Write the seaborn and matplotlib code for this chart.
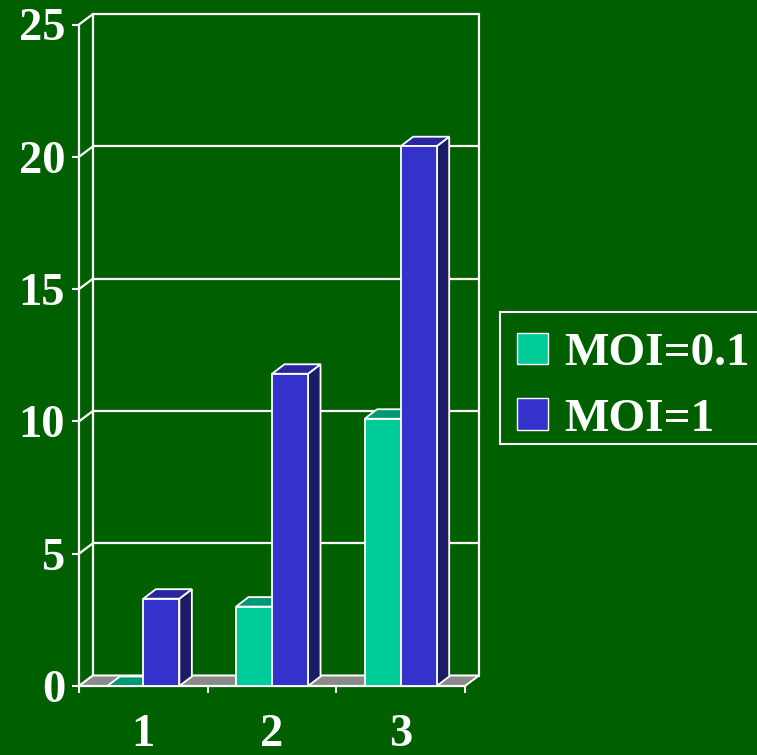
import pandas as pd
import seaborn as sns
import matplotlib.pyplot as plt
from matplotlib.patches import Polygon, Patch, Rectangle

# Chart data
categories = ["1", "2", "3"]
series_names = ["MOI=0.1", "MOI=1"]
moi_low = [0.0, 3.0, 10.1]
moi_high = [3.3, 11.8, 20.4]
y_ticks = [0, 5, 10, 15, 20, 25]

# Colours
BG = "#006000"
FACE = {"MOI=0.1": "#00CC99", "MOI=1": "#3333CC"}
TOP = {"MOI=0.1": "#009977", "MOI=1": "#28289E"}
SIDE = {"MOI=0.1": "#007755", "MOI=1": "#1C1C66"}
FLOOR = "#8A8A8A"

sns.set_style("white")
plt.rcParams["font.family"] = ["Liberation Serif", "DejaVu Serif"]
plt.rcParams["font.weight"] = "bold"

df = pd.DataFrame({
    "group": categories * 2,
    "series": [series_names[0]] * len(categories) + [series_names[1]] * len(categories),
    "value": moi_low + moi_high,
})

W, H = 757, 755
fig = plt.figure(figsize=(W / 100, H / 100), dpi=100, facecolor=BG)
ax = fig.add_axes([79 / W, 1 - 686 / H, 386 / W, 661.5 / H])
ax.set_facecolor("none")

sns.barplot(data=df, x="group", y="value", hue="series", hue_order=series_names,
            palette=FACE, width=0.56, dodge=True, ax=ax, legend=False,
            edgecolor="white", linewidth=1.3, saturation=1, errorbar=None)

ax.set_xlim(-0.5, len(categories) - 0.5)
ax.set_ylim(y_ticks[0], y_ticks[-1])
ax.set_xlabel("")
ax.set_ylabel("")

# pixel -> data conversion for the pseudo-3D depth
pos = ax.get_position()
x0, x1 = ax.get_xlim()
y0, y1 = ax.get_ylim()
ux = (x1 - x0) / (pos.width * W)
uy = (y1 - y0) / (pos.height * H)
wdx, wdy = 14 * ux, 10.5 * uy      # back wall depth
bdx, bdy = 12.5 * ux, 9.5 * uy     # bar depth

# back wall, side wall and gridlines
wall = dict(color="white", lw=1.6, clip_on=False, zorder=1)
for t in y_ticks:
    ax.plot([x0 + wdx, x1 + wdx], [t + wdy, t + wdy], **wall)
    ax.plot([x0, x0 + wdx], [t, t + wdy], **wall)
ax.plot([x0 + wdx, x0 + wdx], [y0 + wdy, y1 + wdy], **wall)
ax.plot([x1 + wdx, x1 + wdx], [y0 + wdy, y1 + wdy], **wall)

# floor
ax.add_patch(Polygon([(x0, 0), (x1, 0), (x1 + wdx, wdy), (x0 + wdx, wdy)], closed=True,
                     facecolor=FLOOR, edgecolor="white", lw=1.4, zorder=1.5, clip_on=False))

# side and top faces of each bar
bars = []
for cont, name in zip(ax.containers, series_names):
    for p in cont.patches:
        bars.append((p, name))
bars.sort(key=lambda b: b[0].get_x())
for i, (p, name) in enumerate(bars):
    x, w, h = p.get_x(), p.get_width(), p.get_height()
    z = 3 + 0.1 * i
    side = Polygon([(x + w, 0), (x + w + bdx, bdy), (x + w + bdx, h + bdy), (x + w, h)],
                   closed=True, facecolor=SIDE[name], edgecolor="white", lw=1.3,
                   zorder=z, clip_on=False)
    top = Polygon([(x, h), (x + w, h), (x + w + bdx, h + bdy), (x + bdx, h + bdy)],
                  closed=True, facecolor=TOP[name], edgecolor="white", lw=1.3,
                  zorder=z, clip_on=False)
    ax.add_patch(side)
    ax.add_patch(top)
    p.set_zorder(z + 0.05)
    p.set_clip_on(False)

# axes styling
for s in ["top", "right"]:
    ax.spines[s].set_visible(False)
for s in ["left", "bottom"]:
    ax.spines[s].set_color("white")
    ax.spines[s].set_linewidth(1.6)

ax.set_yticks(y_ticks)
ax.set_yticklabels([str(t) for t in y_ticks])
ax.tick_params(axis="y", left=True, colors="white", length=5, width=1.5,
               pad=5, labelsize=33.5, direction="out")
ax.set_xticks(range(len(categories)))
ax.set_xticklabels(categories)
ax.tick_params(axis="x", which="major", bottom=True, length=0, pad=20.5,
               labelsize=33.5, labelcolor="white")
ax.set_xticks([k - 0.5 for k in range(len(categories) + 1)], minor=True)
ax.tick_params(axis="x", which="minor", bottom=True, length=5, width=1.5,
               color="white", direction="out")
for lab in ax.get_xticklabels() + ax.get_yticklabels():
    lab.set_fontweight("bold")

# legend box
fig.patches.append(Rectangle((500 / W, 1 - 444 / H), 270 / W, 132 / H,
                             transform=fig.transFigure, facecolor=BG,
                             edgecolor="white", lw=1.5, zorder=0))
handles = [Patch(facecolor=FACE[n], edgecolor="white", lw=1.0, label=n) for n in series_names]
leg = fig.legend(handles=handles, loc="upper left", bbox_to_anchor=(517 / W, 1 - 333 / H),
                 frameon=False, prop=dict(size=34, weight="bold"),
                 labelcolor="white", handlelength=0.66, handleheight=0.64,
                 handletextpad=0.34, labelspacing=0.49, borderpad=0, borderaxespad=0)

fig.savefig("out.png", dpi=100, facecolor=BG)
